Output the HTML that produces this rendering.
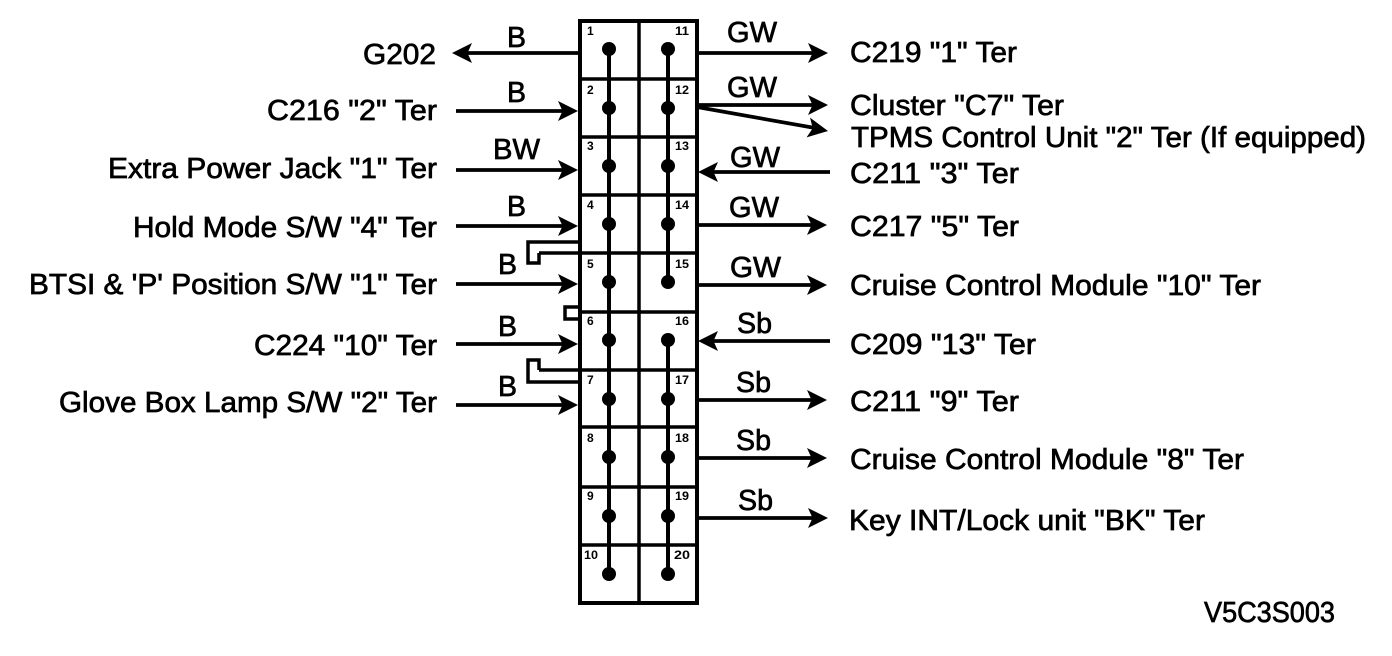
<!DOCTYPE html>
<html><head><meta charset="utf-8"><style>
html,body{margin:0;padding:0;background:#fff}
svg{display:block}
text{font-family:"Liberation Sans",sans-serif;fill:#000;stroke:#000;stroke-width:.7px}
.t{font-size:28.5px}.w{font-size:28.5px}.n{font-size:12px;font-weight:bold;stroke:none}
</style></head><body>
<svg width="1392" height="656" viewBox="0 0 1392 656" xmlns="http://www.w3.org/2000/svg">
<defs>
<path id="ah" d="M0 0L-20 -10L-15.5 0L-20 10Z"/>
</defs>
<!-- box -->
<g stroke="#000" fill="none">
<rect x="580" y="21" width="117" height="582" stroke-width="4"/>
<path stroke-width="3.5" d="M639 21V603"/>
<path stroke-width="3.5" d="M580 79H697M580 137H697M580 195H697M539 253H697M580 312H697M539 370H697M580 427H697M580 487H697M580 545H697"/>
<path stroke-width="4" d="M609 49V574M668 49V282M668 340V574"/>
<path stroke-width="3.5" d="M580 242H528V263H539V253M580 307H565V319H580M580 382H528V360H539V370"/>
<path stroke-width="3.7" d="M580 53H465M456 111H565M456 170H565M456 226H565M456 284H565M456 344H565M456 405H565M697 53H815M697 105H815M697 107L815 128M830 172H712M697 225H815M697 285H815M830 341H712M697 400H815M697 458H815M697 518H815"/>
</g>
<g fill="#000">
<circle cx="609" cy="49" r="7"/><circle cx="609" cy="108" r="7"/><circle cx="609" cy="166" r="7"/><circle cx="609" cy="224" r="7"/><circle cx="609" cy="282" r="7"/><circle cx="609" cy="340" r="7"/><circle cx="609" cy="399" r="7"/><circle cx="609" cy="457" r="7"/><circle cx="609" cy="516" r="7"/><circle cx="609" cy="574" r="7"/>
<circle cx="668" cy="49" r="7"/><circle cx="668" cy="108" r="7"/><circle cx="668" cy="166" r="7"/><circle cx="668" cy="224" r="7"/><circle cx="668" cy="282" r="7"/><circle cx="668" cy="340" r="7"/><circle cx="668" cy="399" r="7"/><circle cx="668" cy="457" r="7"/><circle cx="668" cy="516" r="7"/><circle cx="668" cy="574" r="7"/>
<use href="#ah" transform="translate(452,53) rotate(180)"/>
<use href="#ah" transform="translate(578,111)"/>
<use href="#ah" transform="translate(578,170)"/>
<use href="#ah" transform="translate(578,226)"/>
<use href="#ah" transform="translate(578,284)"/>
<use href="#ah" transform="translate(578,344)"/>
<use href="#ah" transform="translate(578,405)"/>
<use href="#ah" transform="translate(828,53)"/>
<use href="#ah" transform="translate(828,105)"/>
<use href="#ah" transform="translate(828,131) rotate(10)"/>
<use href="#ah" transform="translate(698,172) rotate(180)"/>
<use href="#ah" transform="translate(827,225)"/>
<use href="#ah" transform="translate(827,285)"/>
<use href="#ah" transform="translate(698,341) rotate(180)"/>
<use href="#ah" transform="translate(827,400)"/>
<use href="#ah" transform="translate(827,458)"/>
<use href="#ah" transform="translate(828,518)"/>
</g>
<!-- numbers -->
<g>
<text class="n" x="587" y="35">1</text><text class="n" x="587" y="94">2</text><text class="n" x="587" y="150">3</text><text class="n" x="587" y="209">4</text><text class="n" x="587" y="268">5</text><text class="n" x="587" y="325">6</text><text class="n" x="587" y="384">7</text><text class="n" x="587" y="442">8</text><text class="n" x="587" y="500">9</text><text class="n" x="584" y="559" textLength="14" lengthAdjust="spacingAndGlyphs">10</text>
<text class="n" x="675" y="35" textLength="14" lengthAdjust="spacingAndGlyphs">11</text><text class="n" x="675" y="94" textLength="14" lengthAdjust="spacingAndGlyphs">12</text><text class="n" x="675" y="150" textLength="14" lengthAdjust="spacingAndGlyphs">13</text><text class="n" x="675" y="209" textLength="14" lengthAdjust="spacingAndGlyphs">14</text><text class="n" x="675" y="268" textLength="14" lengthAdjust="spacingAndGlyphs">15</text><text class="n" x="675" y="325" textLength="14" lengthAdjust="spacingAndGlyphs">16</text><text class="n" x="675" y="384" textLength="14" lengthAdjust="spacingAndGlyphs">17</text><text class="n" x="675" y="442" textLength="14" lengthAdjust="spacingAndGlyphs">18</text><text class="n" x="675" y="500" textLength="14" lengthAdjust="spacingAndGlyphs">19</text><text class="n" x="674" y="559" textLength="16" lengthAdjust="spacingAndGlyphs">20</text>
</g>
<!-- wire labels -->
<text class="w" x="507" y="47" textLength="19" lengthAdjust="spacingAndGlyphs">B</text>
<text class="w" x="507" y="102" textLength="19" lengthAdjust="spacingAndGlyphs">B</text>
<text class="w" x="493" y="159" textLength="47" lengthAdjust="spacingAndGlyphs">BW</text>
<text class="w" x="507" y="216" textLength="19" lengthAdjust="spacingAndGlyphs">B</text>
<text class="w" x="498" y="274" textLength="19" lengthAdjust="spacingAndGlyphs">B</text>
<text class="w" x="498" y="336" textLength="19" lengthAdjust="spacingAndGlyphs">B</text>
<text class="w" x="498" y="396" textLength="19" lengthAdjust="spacingAndGlyphs">B</text>
<text class="w" x="727" y="42" textLength="50" lengthAdjust="spacingAndGlyphs">GW</text>
<text class="w" x="727" y="97" textLength="50" lengthAdjust="spacingAndGlyphs">GW</text>
<text class="w" x="730" y="167" textLength="50" lengthAdjust="spacingAndGlyphs">GW</text>
<text class="w" x="729" y="217" textLength="50" lengthAdjust="spacingAndGlyphs">GW</text>
<text class="w" x="730" y="277" textLength="51" lengthAdjust="spacingAndGlyphs">GW</text>
<text class="w" x="737" y="333" textLength="35" lengthAdjust="spacingAndGlyphs">Sb</text>
<text class="w" x="736" y="392" textLength="35" lengthAdjust="spacingAndGlyphs">Sb</text>
<text class="w" x="736" y="450" textLength="35" lengthAdjust="spacingAndGlyphs">Sb</text>
<text class="w" x="738" y="510" textLength="35" lengthAdjust="spacingAndGlyphs">Sb</text>
<!-- left labels -->
<text class="t" x="363" y="64" textLength="73" lengthAdjust="spacingAndGlyphs">G202</text>
<text class="t" x="267" y="120" textLength="170" lengthAdjust="spacingAndGlyphs">C216 "2" Ter</text>
<text class="t" x="108" y="178" textLength="329" lengthAdjust="spacingAndGlyphs">Extra Power Jack "1" Ter</text>
<text class="t" x="133" y="237" textLength="304" lengthAdjust="spacingAndGlyphs">Hold Mode S/W "4" Ter</text>
<text class="t" x="29" y="294" textLength="408" lengthAdjust="spacingAndGlyphs">BTSI &amp; 'P' Position S/W "1" Ter</text>
<text class="t" x="254" y="355" textLength="183" lengthAdjust="spacingAndGlyphs">C224 "10" Ter</text>
<text class="t" x="59" y="412" textLength="378" lengthAdjust="spacingAndGlyphs">Glove Box Lamp S/W "2" Ter</text>
<!-- right labels -->
<text class="t" x="850" y="62" textLength="167" lengthAdjust="spacingAndGlyphs">C219 "1" Ter</text>
<text class="t" x="850" y="115" textLength="214" lengthAdjust="spacingAndGlyphs">Cluster "C7" Ter</text>
<text class="t" x="851" y="147" textLength="515" lengthAdjust="spacingAndGlyphs">TPMS Control Unit "2" Ter (If equipped)</text>
<text class="t" x="850" y="183" textLength="169" lengthAdjust="spacingAndGlyphs">C211 "3" Ter</text>
<text class="t" x="850" y="236" textLength="169" lengthAdjust="spacingAndGlyphs">C217 "5" Ter</text>
<text class="t" x="850" y="295" textLength="411" lengthAdjust="spacingAndGlyphs">Cruise Control Module "10" Ter</text>
<text class="t" x="850" y="354" textLength="186" lengthAdjust="spacingAndGlyphs">C209 "13" Ter</text>
<text class="t" x="850" y="411" textLength="169" lengthAdjust="spacingAndGlyphs">C211 "9" Ter</text>
<text class="t" x="850" y="469" textLength="394" lengthAdjust="spacingAndGlyphs">Cruise Control Module "8" Ter</text>
<text class="t" x="849" y="530" textLength="356" lengthAdjust="spacingAndGlyphs">Key INT/Lock unit "BK" Ter</text>
<text class="t" x="1204" y="622" textLength="131" lengthAdjust="spacingAndGlyphs">V5C3S003</text>
</svg>
</body></html>
